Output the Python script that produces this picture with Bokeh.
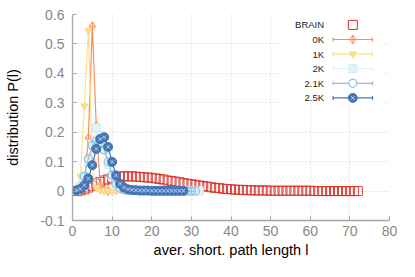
from bokeh.plotting import figure
from bokeh.models import Range1d, FixedTicker, Label
from bokeh.embed import file_html
from bokeh.resources import INLINE

# ---------------- data ----------------
x_brain = list(range(1, 73))
p_brain = [0.000, 0.002, 0.006, 0.012, 0.018, 0.025, 0.031, 0.036, 0.040, 0.044,
           0.047, 0.049, 0.050, 0.050, 0.050, 0.049, 0.048, 0.047, 0.046, 0.045,
           0.043, 0.041, 0.039, 0.036, 0.034, 0.032, 0.030, 0.027, 0.025, 0.023,
           0.021, 0.019, 0.017, 0.015, 0.013, 0.011, 0.010, 0.008, 0.007, 0.006,
           0.005, 0.004, 0.004, 0.003, 0.003, 0.002, 0.002, 0.002, 0.002, 0.001,
           0.001, 0.001, 0.001, 0.001, 0.001, 0.001, 0.001, 0.001, 0.001, 0.001,
           0.000, 0.000, 0.000, 0.000, 0.000, 0.000, 0.000, 0.000, 0.000, 0.000,
           0.000, 0.000]

x_0k = list(range(1, 10))
p_0k = [0.000, 0.003, 0.025, 0.180, 0.560, 0.223, 0.020, 0.003, 0.000]

x_1k = list(range(1, 12))
p_1k = [0.000, 0.050, 0.289, 0.545, 0.100, 0.012, 0.003, 0.001, 0.000, 0.000, 0.000]

x_2k = list(range(1, 33))
p_2k = [0.003, 0.015, 0.050, 0.100, 0.160, 0.215, 0.190, 0.140, 0.090, 0.050,
        0.020, 0.010, 0.005, 0.003, 0.002, 0.002, 0.001, 0.001, 0.001, 0.001,
        0.001, 0.001, 0.001, 0.001, 0.000, 0.000, 0.000, 0.000, 0.000, 0.000,
        0.000, 0.000]

x_21k = list(range(1, 32))
p_21k = [0.002, 0.010, 0.050, 0.110, 0.155, 0.170, 0.165, 0.140, 0.100, 0.055,
         0.025, 0.010, 0.005, 0.003, 0.002, 0.002, 0.001, 0.001, 0.001, 0.001,
         0.001, 0.001, 0.001, 0.000, 0.000, 0.000, 0.000, 0.000, 0.000, 0.000,
         0.000]

x_25k = list(range(1, 29))
p_25k = [0.003, 0.007, 0.020, 0.043, 0.088, 0.143, 0.177, 0.183, 0.150, 0.099,
         0.053, 0.025, 0.012, 0.006, 0.004, 0.003, 0.002, 0.002, 0.002, 0.001,
         0.001, 0.001, 0.001, 0.001, 0.001, 0.001, 0.001, 0.001]

series_names = ["BRAIN", "0K", "1K", "2K", "2.1K", "2.5K"]
series_colors = ["#d73027", "#fc8d59", "#fee090", "#e0f3f8", "#91bfdb", "#4575b4"]

x_ticks = [0, 10, 20, 30, 40, 50, 60, 70, 80]
y_ticks = [-0.1, 0.0, 0.1, 0.2, 0.3, 0.4, 0.5, 0.6]
y_tick_labels = ["-0.1", "0", "0.1", "0.2", "0.3", "0.4", "0.5", "0.6"]

x_title = "aver. short. path length l"
y_title = "distribution P(l)"

# ---------------- figure ----------------
FW, FH = 317, 206
p = figure(width=399, height=261, x_range=Range1d(0, 80), y_range=Range1d(-0.1, 0.6),
           output_backend="svg", toolbar_location=None,
           min_border_left=72, min_border_right=10, min_border_top=14, min_border_bottom=41)
p.extra_x_ranges = {"px": Range1d(0, FW)}
p.extra_y_ranges = {"py": Range1d(0, FH)}
p.outline_line_color = None
p.background_fill_color = "white"

FONT = "Liberation Sans"
for ax in (p.xaxis[0], p.yaxis[0]):
    ax.axis_line_color = "#a8a8a8"
    ax.axis_line_width = 1.3
    ax.major_tick_line_color = "#a8a8a8"
    ax.major_tick_in = 4
    ax.major_tick_out = 0
    ax.minor_tick_line_color = None
    ax.major_label_text_font = FONT
    ax.major_label_text_font_size = "14px"
    ax.major_label_text_color = "#888888"
    ax.axis_label_text_font = FONT
    ax.axis_label_text_font_size = "14.5px"
    ax.axis_label_text_font_style = "normal"
    ax.axis_label_text_color = "black"
p.xaxis[0].ticker = FixedTicker(ticks=x_ticks)
p.yaxis[0].ticker = FixedTicker(ticks=y_ticks)
p.yaxis[0].major_label_overrides = {t: s for t, s in zip(y_ticks, y_tick_labels)}
p.xaxis[0].major_label_standoff = 5
p.yaxis[0].major_label_standoff = 8
p.xaxis[0].axis_label = x_title
p.yaxis[0].axis_label = y_title
p.xaxis[0].axis_label_standoff = 3
p.yaxis[0].axis_label_standoff = 16

p.xgrid[0].ticker = FixedTicker(ticks=x_ticks)
p.ygrid[0].ticker = FixedTicker(ticks=y_ticks)
for g in (p.xgrid[0], p.ygrid[0]):
    g.grid_line_color = "#e2e2e2"
    g.grid_line_dash = "2 2"
    g.grid_line_width = 1

# ---------------- series ----------------
c = series_colors
p.scatter(x_brain, p_brain, marker="square", size=9, fill_color=None,
          line_color=c[0], line_width=1, line_alpha=0.9)

p.line(x_0k, p_0k, line_color=c[1], line_width=1.2)
p.scatter(x_0k, p_0k, marker="diamond_cross", size=9, fill_color="white",
          fill_alpha=0.6, line_color=c[1], line_width=1)

p.line(x_1k, p_1k, line_color=c[2], line_width=1.2)
p.scatter(x_1k, p_1k, marker="inverted_triangle", size=7, fill_color=c[2],
          line_color="#f7d57a", line_width=1)

p.line(x_2k, p_2k, line_color=c[3], line_width=1.2)
p.scatter(x_2k, p_2k, marker="square", size=8, fill_color=c[3],
          line_color="#d2ecf4", line_width=1)

p.line(x_21k, p_21k, line_color=c[4], line_width=1.2)
p.scatter(x_21k, p_21k, marker="circle", size=8, fill_color=None,
          line_color=c[4], line_width=1.2)

p.line(x_25k, p_25k, line_color=c[5], line_width=1.2)
p.scatter(x_25k, p_25k, marker="circle", size=9, fill_color=c[5],
          line_color=c[5], line_width=1)
p.scatter(x_25k, p_25k, marker="x", size=5, line_color="white", line_width=1, line_alpha=0.65)

# ---------------- legend (frame pixel units) ----------------
LR = dict(x_range_name="px", y_range_name="py")
p.quad(left=[209], right=[310], bottom=[117], top=[204], fill_color="white",
       line_color=None, **LR)
row_y = [195.6, 181.0, 166.4, 151.8, 137.2, 122.6]
text_x, line_x0, line_x1, mark_x = 251.6, 260.6, 300.0, 280.3
for i, (name, col) in enumerate(zip(series_names, series_colors)):
    y = row_y[i]
    p.add_layout(Label(x=text_x, y=y, text=name, text_align="right", text_baseline="middle",
                       text_font=FONT, text_font_size="9.5px", text_color="#222222", **LR))
    if i > 0:
        p.segment(x0=[line_x0], y0=[y], x1=[line_x1], y1=[y], line_color=col, line_width=1.2, **LR)
        p.segment(x0=[line_x0, line_x1], y0=[y - 2, y - 2], x1=[line_x0, line_x1], y1=[y + 2, y + 2],
                  line_color=col, line_width=1.2, **LR)
p.scatter([mark_x], [row_y[0]], marker="square", size=9, fill_color=None, line_color=c[0], line_width=1, **LR)
p.scatter([mark_x], [row_y[1]], marker="diamond_cross", size=9, fill_color="white", line_color=c[1], line_width=1, **LR)
p.scatter([mark_x], [row_y[2]], marker="inverted_triangle", size=7, fill_color=c[2], line_color="#f7d57a", **LR)
p.scatter([mark_x], [row_y[3]], marker="square", size=8, fill_color=c[3], line_color="#d2ecf4", **LR)
p.scatter([mark_x], [row_y[4]], marker="circle", size=8, fill_color="white", line_color=c[4], line_width=1.2, **LR)
p.scatter([mark_x], [row_y[5]], marker="circle", size=9, fill_color=c[5], line_color=c[5], **LR)
p.scatter([mark_x], [row_y[5]], marker="x", size=5, line_color="white", line_width=1, line_alpha=0.65, **LR)

open("out.html", "w").write(file_html(p, INLINE))
